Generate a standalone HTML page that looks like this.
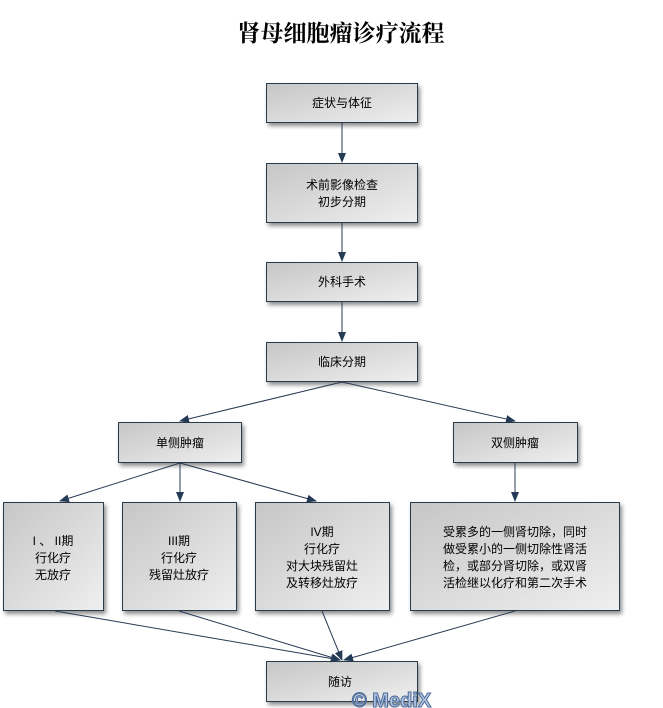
<!DOCTYPE html>
<html><head><meta charset="utf-8"><style>
body{margin:0;background:#fff;}
svg{display:block;font-family:"Liberation Sans","Noto Sans CJK SC",sans-serif;}
</style></head><body>
<svg width="663" height="708" viewBox="0 0 663 708">
<defs>
<linearGradient id="g" x1="0" y1="0" x2="1" y2="1">
<stop offset="0" stop-color="#c6c6c6"/><stop offset="1" stop-color="#efefef"/>
</linearGradient>
<filter id="s" x="-10%" y="-10%" width="130%" height="140%"><feDropShadow dx="2" dy="3" stdDeviation="2" flood-color="#000" flood-opacity="0.45"/></filter>
<marker id="a" markerWidth="10" markerHeight="10" refX="9" refY="5" orient="auto" markerUnits="userSpaceOnUse"><path d="M0,1 L10,5 L0,9 z" fill="#243a55"/></marker>
</defs>
<text x="341" y="41" text-anchor="middle" font-size="23" font-weight="bold" font-family="'Noto Serif CJK SC','Noto Sans CJK SC',serif" fill="#000">肾母细胞瘤诊疗流程</text>
<g fill="url(#g)" stroke="#2a3a4a" stroke-width="1" filter="url(#s)">
<rect x="266.5" y="83.5" width="151" height="39"/>
<rect x="266.5" y="163.5" width="151" height="59"/>
<rect x="266.5" y="262.5" width="151" height="39"/>
<rect x="266.5" y="342.5" width="151" height="39"/>
<rect x="118.5" y="422.5" width="123" height="40"/>
<rect x="453.5" y="422.5" width="124" height="40"/>
<rect x="3.5" y="502.5" width="100" height="108"/>
<rect x="122.5" y="502.5" width="114" height="108"/>
<rect x="255.5" y="502.5" width="134" height="108"/>
<rect x="410.5" y="502.5" width="209" height="108"/>
<rect x="266.5" y="661.5" width="151" height="40"/>
</g>
<g stroke="#2a3a55" stroke-width="1" fill="none" marker-end="url(#a)">
<line x1="342" y1="123" x2="342" y2="162"/>
<line x1="342" y1="223" x2="342" y2="261"/>
<line x1="342" y1="302" x2="342" y2="341"/>
<line x1="342" y1="382" x2="180" y2="421"/>
<line x1="342" y1="382" x2="515" y2="421"/>
<line x1="180" y1="463" x2="60" y2="501"/>
<line x1="180" y1="463" x2="180" y2="501"/>
<line x1="180" y1="463" x2="316" y2="501"/>
<line x1="515" y1="463" x2="515" y2="501"/>
<line x1="55" y1="611" x2="340" y2="660"/>
<line x1="179" y1="611" x2="340" y2="660"/>
<line x1="322" y1="611" x2="342" y2="660"/>
<line x1="515" y1="611" x2="344" y2="660"/>
</g>
<g font-size="12" fill="#000" text-anchor="middle">
<text x="342" y="107">症状与体征</text>
<text x="342" y="189">术前影像检查</text>
<text x="342" y="206">初步分期</text>
<text x="342" y="286">外科手术</text>
<text x="342" y="366">临床分期</text>
<text x="180" y="447">单侧肿瘤</text>
<text x="515" y="447">双侧肿瘤</text>
<text x="53" y="545">I 、 II期</text>
<text x="53" y="562">行化疗</text>
<text x="53" y="579">无放疗</text>
<text x="179" y="545">III期</text>
<text x="179" y="562">行化疗</text>
<text x="179" y="579">残留灶放疗</text>
<text x="322" y="536">IV期</text>
<text x="322" y="553">行化疗</text>
<text x="322" y="570">对大块残留灶</text>
<text x="322" y="587">及转移灶放疗</text>
<text x="515" y="536">受累多的一侧肾切除，同时</text>
<text x="515" y="553">做受累小的一侧切除性肾活</text>
<text x="515" y="570">检，或部分肾切除，或双肾</text>
<text x="515" y="587">活检继以化疗和第二次手术</text>
<text x="340" y="686">随访</text>
</g>
<text x="352" y="707" font-size="20" font-weight="bold" fill="#b8c8e0" stroke="#4a6a9a" stroke-width="1">© MediX</text>
</svg>
</body></html>
